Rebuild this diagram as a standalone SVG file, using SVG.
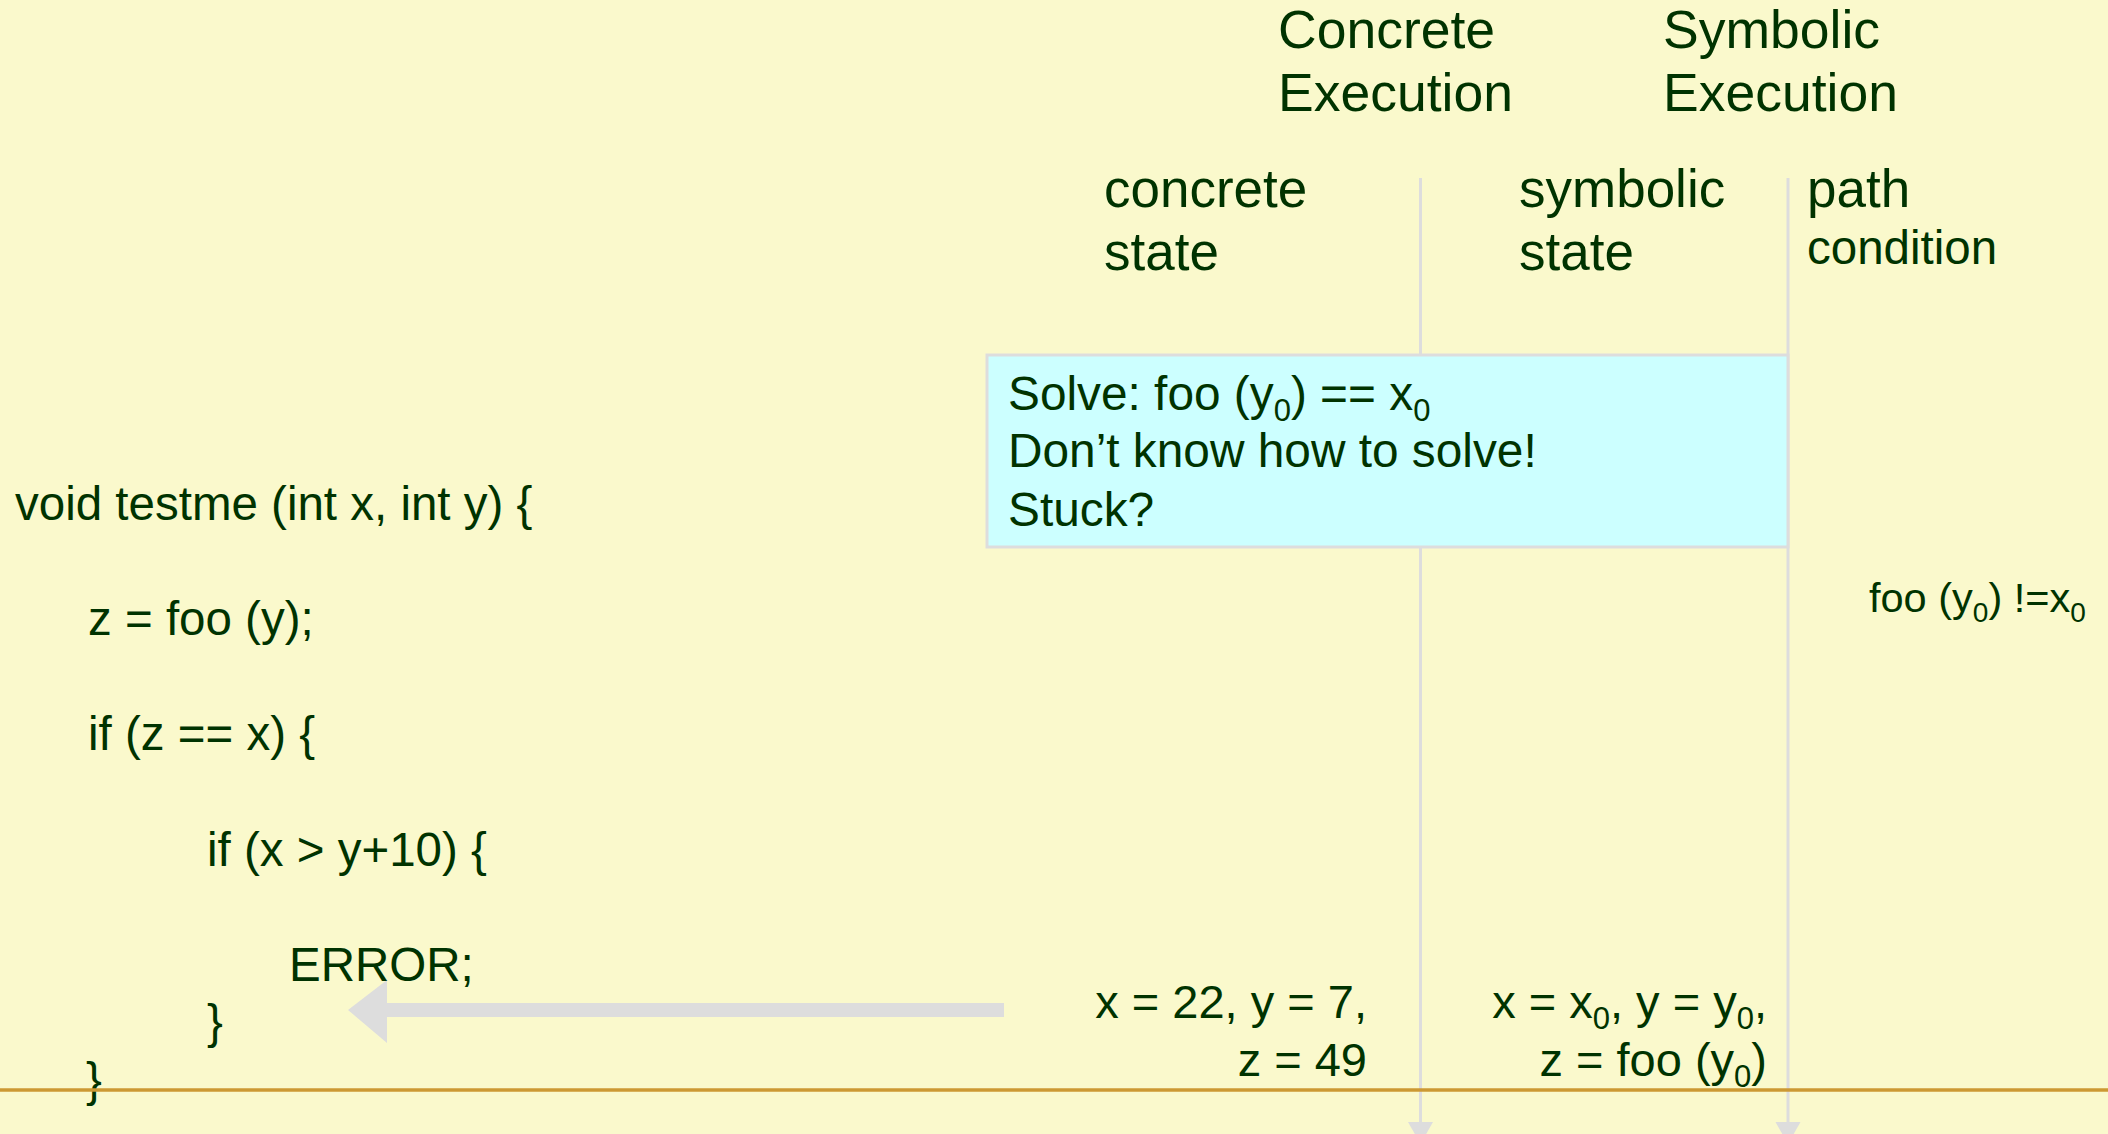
<svg xmlns="http://www.w3.org/2000/svg" width="2108" height="1134" viewBox="0 0 2108 1134">
  <style>
    text { font-family: "Liberation Sans", Arial, sans-serif; fill: #003300; }
    .hd { font-size: 53.5px; }
    .col { font-size: 53px; }
    .code { font-size: 47.5px; }
    .box { font-size: 47.8px; }
    .st { font-size: 47px; }
    .sub { font-size: 31px; }
    .vline { stroke: #DDDDDD; stroke-width: 3; fill: none; }
    .ahead { fill: #DDDDDD; }
  </style>
  <rect x="0" y="0" width="2108" height="1134" fill="#FAF9CC"/>

  <g id="headers">
    <text class="hd" x="1278" y="48">Concrete</text>
    <text class="hd" x="1278" y="111">Execution</text>
    <text class="hd" x="1663" y="48">Symbolic</text>
    <text class="hd" x="1663" y="111">Execution</text>
  </g>

  <g id="column-labels">
    <text class="col" x="1104" y="207">concrete</text>
    <text class="col" x="1104" y="270">state</text>
    <text class="col" x="1519" y="207">symbolic</text>
    <text class="col" x="1519" y="270">state</text>
    <text class="col" x="1807" y="207">path</text>
    <text x="1807" y="264" style="font-size:47.5px">condition</text>
  </g>

  <g id="connectors">
    <line class="vline" x1="1420.5" y1="178" x2="1420.5" y2="1124"/>
    <polygon class="ahead" points="1408,1122 1433,1122 1420.5,1144"/>
    <line class="vline" x1="1788" y1="178" x2="1788" y2="1124"/>
    <polygon class="ahead" points="1775.5,1122 1800.5,1122 1788,1144"/>
    <polygon class="ahead" points="1004,1003 387,1003 387,980 348,1010 387,1043 387,1017 1004,1017"/>
  </g>

  <g id="stuck-box">
    <rect x="987" y="355" width="801" height="192" fill="#CCFFFF" stroke="#DDDDDD" stroke-width="3"/>
    <text class="box" x="1008" y="410">Solve: foo (y<tspan class="sub" dy="11">0</tspan><tspan dy="-11">) == x</tspan><tspan class="sub" dy="11">0</tspan></text>
    <text class="box" x="1008" y="467">Don’t know how to solve!</text>
    <text class="box" x="1008" y="526">Stuck?</text>
  </g>

  <g id="path-condition">
    <text x="1869" y="612" style="font-size:41.5px">foo (y<tspan style="font-size:28px" dy="10">0</tspan><tspan dy="-10">) !=x</tspan><tspan style="font-size:28px" dy="10">0</tspan></text>
  </g>

  <g id="code">
    <text class="code" x="15" y="520">void testme (int x, int y) {</text>
    <text class="code" x="88" y="635">z = foo (y);</text>
    <text class="code" x="88" y="750">if (z == x) {</text>
    <text class="code" x="207" y="866">if (x &gt; y+10) {</text>
    <text class="code" x="289" y="981">ERROR;</text>
    <text class="code" x="207" y="1038">}</text>
    <text class="code" x="86" y="1096">}</text>
  </g>

  <g id="concrete-state">
    <text class="st" x="1367" y="1018" text-anchor="end">x = 22, y = 7,</text>
    <text class="st" x="1367" y="1076" text-anchor="end">z = 49</text>
  </g>

  <g id="symbolic-state">
    <text class="st" x="1767" y="1018" text-anchor="end">x = x<tspan class="sub" dy="11">0</tspan><tspan dy="-11">, y = y</tspan><tspan class="sub" dy="11">0</tspan><tspan dy="-11">,</tspan></text>
    <text class="st" x="1767" y="1076" text-anchor="end">z = foo (y<tspan class="sub" dy="11">0</tspan><tspan dy="-11">)</tspan></text>
  </g>

  <line x1="0" y1="1090" x2="2108" y2="1090" stroke="#CC9933" stroke-width="3.5"/>
</svg>
